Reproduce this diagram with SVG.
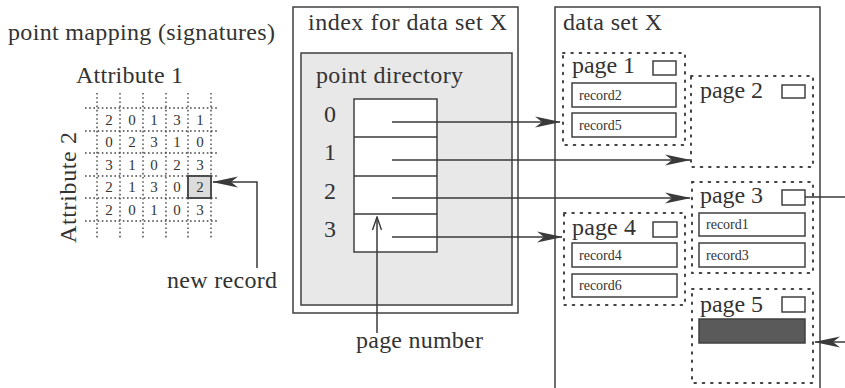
<svg xmlns="http://www.w3.org/2000/svg" width="845" height="388" viewBox="0 0 845 388">
  <defs>
    <marker id="arr" markerUnits="userSpaceOnUse" viewBox="0 0 26 12" markerWidth="26" markerHeight="12" refX="25" refY="6" orient="auto">
      <path d="M0,0.5 L26,6 L0,11.5 L7,6 Z" fill="#3a3a3a"/>
    </marker>
    <marker id="open" markerUnits="userSpaceOnUse" viewBox="0 0 14 10" markerWidth="14" markerHeight="10" refX="13" refY="5" orient="auto">
      <path d="M0,0.5 L13,5 L0,9.5" fill="none" stroke="#3a3a3a" stroke-width="1.4"/>
    </marker>
  </defs>
  <style>
    text { font-family: "Liberation Serif", "Times New Roman", serif; fill: #333; }
    .big { font-size: 24px; }
    .num { font-size: 15px; }
    .rec { font-size: 14px; }
    .box { fill: none; stroke: #404040; stroke-width: 1.5; }
    .wbox { fill: #fff; stroke: #404040; stroke-width: 1.5; }
    .dot { fill: none; stroke: #444; stroke-width: 2; stroke-dasharray: 1.6 6.7; stroke-linecap: round; }
    .grid { stroke: #444; stroke-width: 1.4; stroke-dasharray: 1.6 2.6; fill: none; }
    .edge { stroke: #3a3a3a; stroke-width: 1.5; fill: none; }
  </style>
  <rect width="845" height="388" fill="#fff"/>

  <!-- signature grid -->
  <g id="point-mapping">
    <text class="big" x="8" y="40" textLength="267" lengthAdjust="spacing">point mapping (signatures)</text>
    <text class="big" x="76" y="83" textLength="107" lengthAdjust="spacing">Attribute 1</text>
    <text class="big" transform="translate(76,243) rotate(-90)" textLength="111" lengthAdjust="spacing">Attribute 2</text>
    <g class="grid">
      <path d="M97,93V238 M120,93V238 M143,93V238 M166,93V238 M188,93V238 M211,93V238"/>
      <path d="M85,108H218 M85,131H218 M85,153H218 M85,176H218 M85,198H218 M85,221H218"/>
    </g>
    <rect x="188" y="176" width="23" height="22" fill="#dcdcdc" stroke="#404040" stroke-width="1.8"/>
    <g class="num" text-anchor="middle">
      <text x="109" y="125">2</text><text x="132" y="125">0</text><text x="154" y="125">1</text><text x="177" y="125">3</text><text x="200" y="125">1</text>
      <text x="109" y="147">0</text><text x="132" y="147">2</text><text x="154" y="147">3</text><text x="177" y="147">1</text><text x="200" y="147">0</text>
      <text x="109" y="170">3</text><text x="132" y="170">1</text><text x="154" y="170">0</text><text x="177" y="170">2</text><text x="200" y="170">3</text>
      <text x="109" y="192">2</text><text x="132" y="192">1</text><text x="154" y="192">3</text><text x="177" y="192">0</text><text x="200" y="192">2</text>
      <text x="109" y="215">2</text><text x="132" y="215">0</text><text x="154" y="215">1</text><text x="177" y="215">0</text><text x="200" y="215">3</text>
    </g>
  </g>

  <g id="new-record">
    <text class="big" x="167" y="288" textLength="110" lengthAdjust="spacing">new record</text>
  </g>

  <!-- index structure -->
  <g id="index">
    <rect class="box" x="293" y="7" width="225" height="306"/>
    <text class="big" x="308" y="30" textLength="199" lengthAdjust="spacing">index for data set X</text>
    <rect x="301" y="53" width="211" height="252" fill="#e8e8e8" stroke="#404040" stroke-width="1.5"/>
    <text class="big" x="316" y="83" textLength="147" lengthAdjust="spacing">point directory</text>
  </g>

  <g id="point-directory">
    <rect class="wbox" x="354" y="99" width="83" height="153"/>
    <path class="edge" d="M354,137H437 M354,176H437 M354,214H437"/>
    <g class="big" text-anchor="middle">
      <text x="330" y="122">0</text>
      <text x="330" y="160">1</text>
      <text x="330" y="199">2</text>
      <text x="330" y="237">3</text>
    </g>
  </g>

  <g id="page-number">
    <text class="big" x="356" y="348" textLength="127" lengthAdjust="spacing">page number</text>
  </g>

  <!-- data file -->
  <g id="data-set">
    <rect class="box" x="555" y="7" width="265" height="395"/>
    <text class="big" x="563" y="30" textLength="99" lengthAdjust="spacing">data set X</text>
  </g>

  <g id="page1">
    <rect class="dot" x="563" y="53" width="122" height="92"/>
    <text class="big" x="572" y="73" textLength="63" lengthAdjust="spacing">page 1</text>
    <rect class="box" x="653" y="61" width="23" height="14"/>
    <rect class="box" x="572" y="83" width="104" height="24"/>
    <text class="rec" x="579" y="100">record2</text>
    <rect class="box" x="572" y="113" width="104" height="24"/>
    <text class="rec" x="579" y="130">record5</text>
  </g>

  <g id="page2">
    <rect class="dot" x="691" y="76" width="122" height="91"/>
    <text class="big" x="700" y="98" textLength="63" lengthAdjust="spacing">page 2</text>
    <rect class="box" x="782" y="85" width="23" height="13"/>
  </g>

  <g id="page3">
    <rect class="dot" x="692" y="182" width="121" height="91"/>
    <text class="big" x="700" y="203" textLength="63" lengthAdjust="spacing">page 3</text>
    <rect class="box" x="782" y="190" width="23" height="15"/>
    <rect class="box" x="699" y="213" width="106" height="23"/>
    <text class="rec" x="706" y="229">record1</text>
    <rect class="box" x="699" y="243" width="106" height="24"/>
    <text class="rec" x="706" y="260">record3</text>
  </g>

  <g id="page4">
    <rect class="dot" x="564" y="213" width="121" height="92"/>
    <text class="big" x="572" y="235" textLength="64" lengthAdjust="spacing">page 4</text>
    <rect class="box" x="653" y="222" width="24" height="15"/>
    <rect class="box" x="572" y="243" width="105" height="24"/>
    <text class="rec" x="579" y="260">record4</text>
    <rect class="box" x="572" y="274" width="105" height="23"/>
    <text class="rec" x="579" y="290">record6</text>
  </g>

  <g id="page5">
    <rect class="dot" x="692" y="289" width="121" height="94"/>
    <text class="big" x="700" y="312" textLength="63" lengthAdjust="spacing">page 5</text>
    <rect class="box" x="782" y="297" width="23" height="15"/>
    <rect x="699" y="319" width="106" height="24" fill="#5a5a5a" stroke="#404040" stroke-width="1.5"/>
  </g>

  <!-- connectors -->
  <g id="connectors">
    <path class="edge" d="M257,268V182H213" marker-end="url(#arr)"/>
    <path class="edge" d="M377,333V217" marker-end="url(#open)"/>
    <path class="edge" d="M392,122H560" marker-end="url(#arr)"/>
    <path class="edge" d="M392,160H690" marker-end="url(#arr)"/>
    <path class="edge" d="M392,198H690" marker-end="url(#arr)"/>
    <path class="edge" d="M392,237H562" marker-end="url(#arr)"/>
    <path class="edge" d="M805,197H845"/>
    <path class="edge" d="M845,342H815" marker-end="url(#arr)"/>
  </g>
</svg>
